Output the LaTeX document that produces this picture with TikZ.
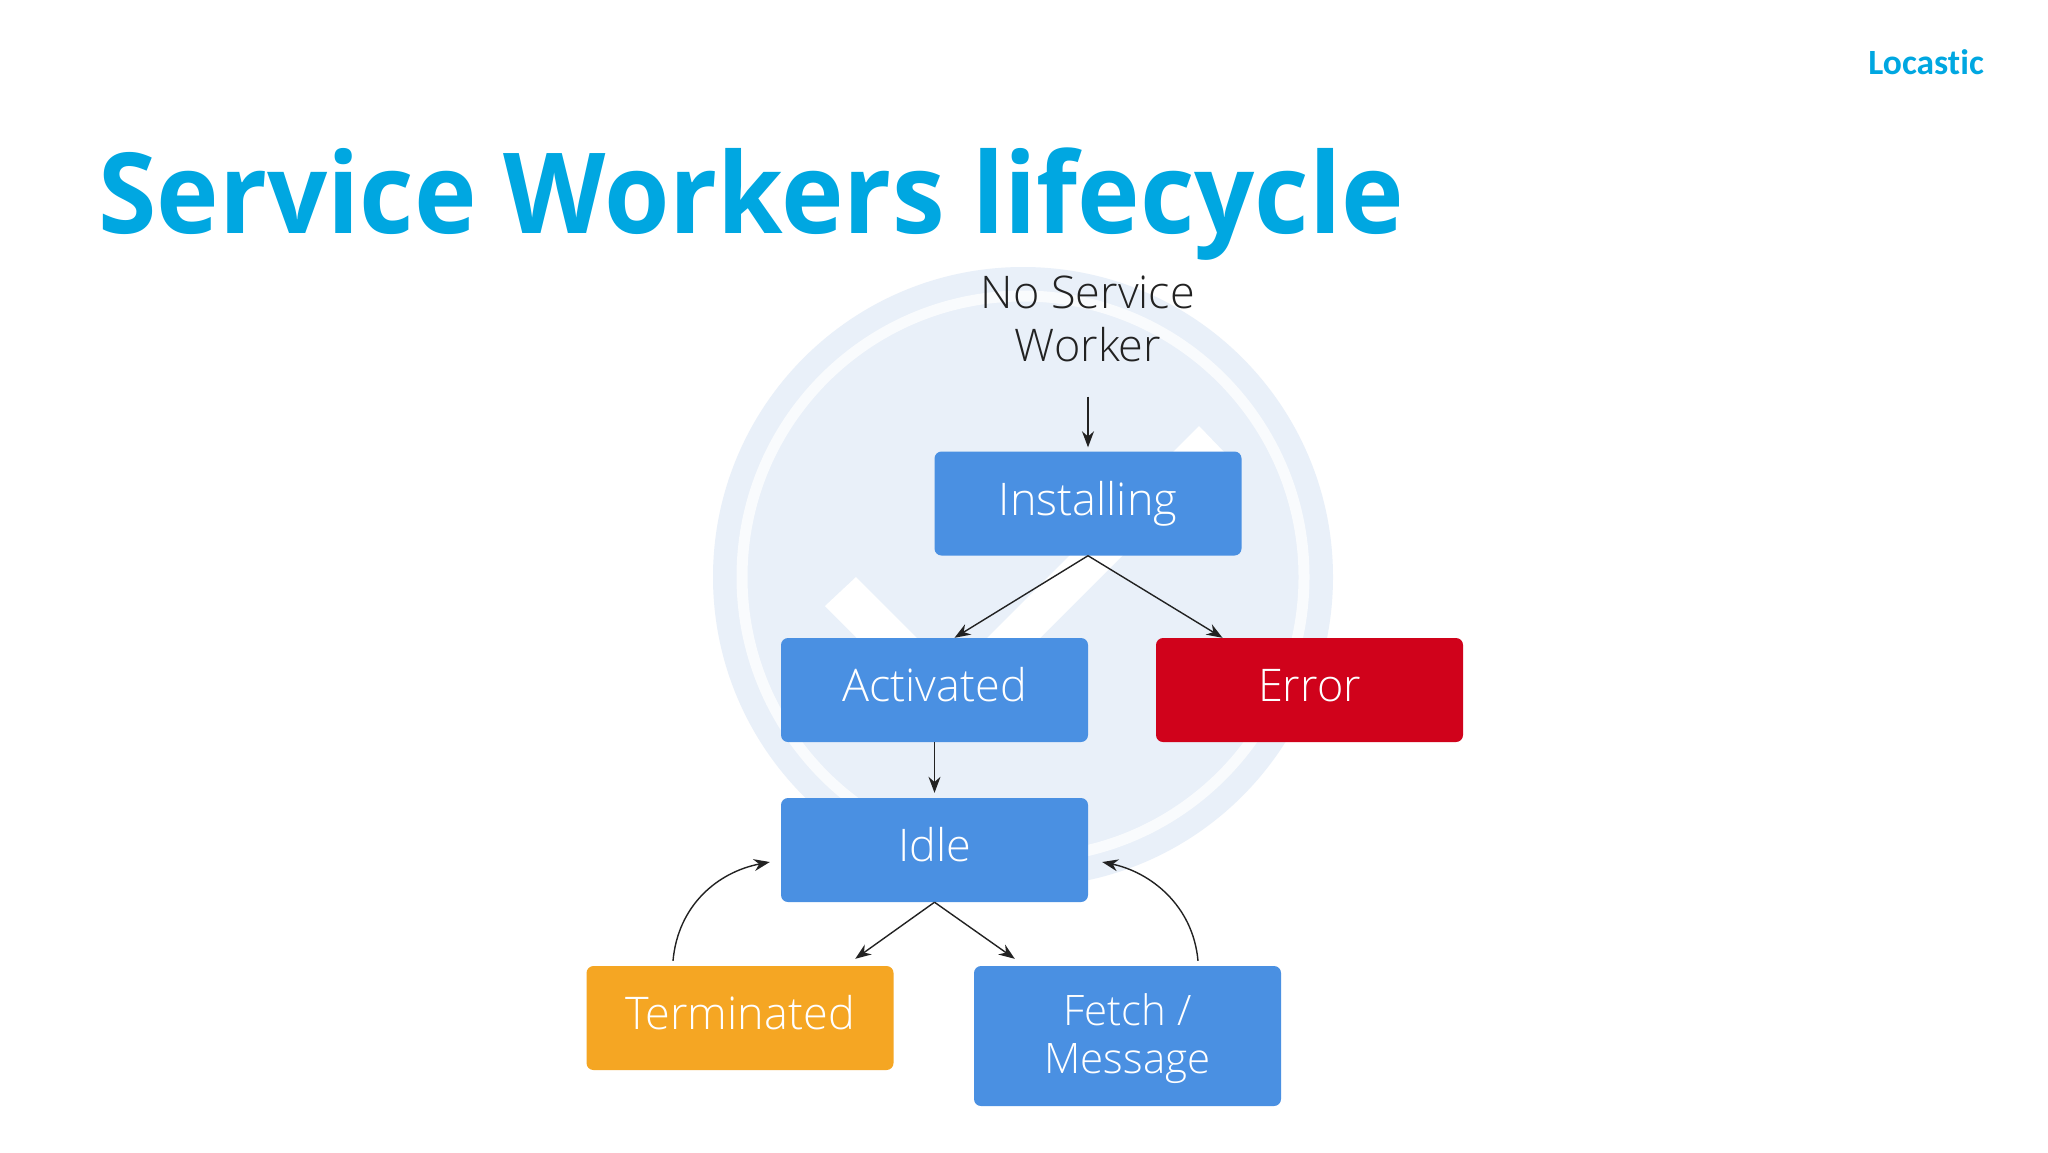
\documentclass[tikz,border=0pt]{standalone}
\usepackage{fontspec}
\usepackage{array}
\usepackage{graphicx}
\setmainfont{Open Sans}
\newfontfamily\lightf{Open Sans}[UprightFont=* Light]
\newfontfamily\brandf{Carlito}[Ligatures=NoCommon]
\usetikzlibrary{arrows.meta}
\definecolor{titleblue}{HTML}{00A7E1}
\definecolor{boxblue}{HTML}{4A90E2}
\definecolor{boxred}{HTML}{D0021B}
\definecolor{boxorange}{HTML}{F5A623}
\definecolor{wash}{HTML}{E9F0F9}
\definecolor{ink}{HTML}{222222}
\tikzset{
  statebox/.style={draw=none,rounded corners=7pt,minimum width=307pt,minimum height=104pt,inner sep=0pt,text=white,
    font=\lightf\fontsize{45}{48}\selectfont,text height=32pt,text depth=9pt,align=center},
  flow/.style={draw=ink,line width=1.4pt,-{Stealth[length=16pt,width=12pt]}},
}
\begin{document}
\begin{tikzpicture}[x=1pt,y=-1pt]
\useasboundingbox (0,0) rectangle (2048,1152);
\fill[white] (0,0) rectangle (2048,1152);
% watermark
\fill[wash] (1023,577) circle[radius=310];
\draw[white!75!wash,line width=11pt] (1023,577) circle[radius=281];
\fill[white] (856,577) -- (952,673) -- (1199,426) -- (1225,453) -- (948,730) -- (825,606) -- cycle;
% title
\node[anchor=base west,inner sep=0pt,text=titleblue,font=\bfseries\fontsize{112}{120}\selectfont] (title) at (98,233) {\scalebox{0.945}[1]{Service Workers lifecycle}};
\node[anchor=base east,inner sep=0pt,text=titleblue,font=\brandf\bfseries\fontsize{35.5}{36}\selectfont] (brand) at (1984,74) {Locastic};
% states
\node[anchor=base,inner sep=0pt,text=ink,align=center,font=\lightf\fontsize{45}{53}\selectfont] (none) at (1088,361) {No Service\\Worker};
\node[statebox,fill=boxblue] (inst) at (1088,503.5) {Installing};
\node[statebox,fill=boxblue] (act) at (934.5,690) {Activated};
\node[statebox,fill=boxred] (err) at (1309.5,690) {Error};
\node[statebox,fill=boxblue] (idle) at (934.5,850) {Idle};
\node[statebox,fill=boxorange] (term) at (740,1018) {Terminated};
\node[statebox,fill=boxblue,minimum height=140pt,text height=10pt,text depth=32pt,font=\lightf\fontsize{42}{48}\selectfont] (fetch) at (1127.5,1036) {\begin{tabular}[t]{@{}c@{}}Fetch /\\Message\end{tabular}};
% connectors
\draw[flow] ([yshift=-35pt]none.south) -- ([yshift=4pt]inst.north);
\draw[flow] (inst.south) -- ([xshift=20pt]act.north);
\draw[flow] (inst.south) -- ([xshift=-87pt]err.north);
\draw[flow] (act.south) -- ([yshift=5pt]idle.north);
\draw[flow] (idle.south) -- ([xshift=-38.5pt,yshift=7pt]term.north east);
\draw[flow] (idle.south) -- ([xshift=41pt,yshift=7pt]fetch.north west);
\draw[flow] ([xshift=-67pt,yshift=5pt]term.north) .. controls (678,905) and (718,872) .. ([xshift=-11pt,yshift=-12pt]idle.west);
\draw[flow] ([xshift=70.5pt,yshift=5pt]fetch.north) .. controls (1193,905) and (1150,872) .. ([xshift=14pt,yshift=-12pt]idle.east);
\end{tikzpicture}
\end{document}
